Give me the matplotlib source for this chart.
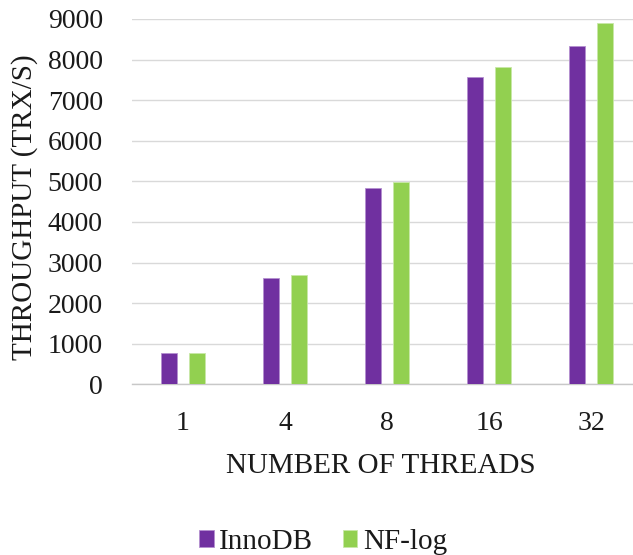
import numpy as np
import matplotlib
matplotlib.use("Agg")
import matplotlib.pyplot as plt

# ---------------------------------------------------------------------------
# Data
# ---------------------------------------------------------------------------
threads = ["1", "4", "8", "16", "32"]
innodb = [763, 2610, 4830, 7560, 8340]
nf_log = [760, 2685, 4975, 7825, 8890]

plt.rcParams["font.family"] = ["Liberation Serif", "DejaVu Serif"]

fig = plt.figure(figsize=(6.33, 5.55), dpi=100)
W, H = 633, 555
ax = fig.add_axes([132 / W, (H - 384.3) / H, 510 / W, 365.3 / H])

x = np.arange(len(threads))
width = 0.16
ax.bar(x - 0.135, innodb, width, color="#7030A0", edgecolor="#B48FD0", linewidth=0.6,
       label="InnoDB", zorder=3)
ax.bar(x + 0.135, nf_log, width, color="#92D050", edgecolor="#C8E8A8", linewidth=0.6,
       label="NF-log", zorder=3)

ax.set_xlim(-0.5, len(threads) - 0.5)
ax.set_ylim(0, 9000)
ax.set_yticks(np.arange(0, 9001, 1000))
ax.set_xticks(x)
ax.set_xticklabels(threads)
ax.tick_params(axis="both", length=0, labelsize=20, colors="#1a1a1a")
ax.tick_params(axis="x", pad=19)
ax.tick_params(axis="y", pad=21)

ax.grid(axis="y", color="#D9D9D9", linewidth=1.0, zorder=0)
for side in ("top", "right", "left"):
    ax.spines[side].set_visible(False)
ax.spines["bottom"].set_color("#C8C8C8")
ax.spines["bottom"].set_linewidth(1.0)

ax.set_xlabel("NUMBER OF THREADS", fontsize=21, color="#1a1a1a")
ax.xaxis.set_label_coords((381 - 132) / 510, -(453 - 384.3) / 365.3)
ax.set_ylabel("THROUGHPUT (TRX/S)", fontsize=21, color="#1a1a1a")
ax.yaxis.set_label_coords(-(132 - 38) / 510, (384.3 - 207) / 365.3)

fig.legend(loc="center", bbox_to_anchor=(323 / W, (H - 542) / H), ncol=2, frameon=False,
           fontsize=21, handlelength=0.5, handleheight=0.5, handletextpad=0.2,
           columnspacing=1.0, labelcolor="#1a1a1a")

fig.savefig("out.png", dpi=100)
plt.close(fig)
